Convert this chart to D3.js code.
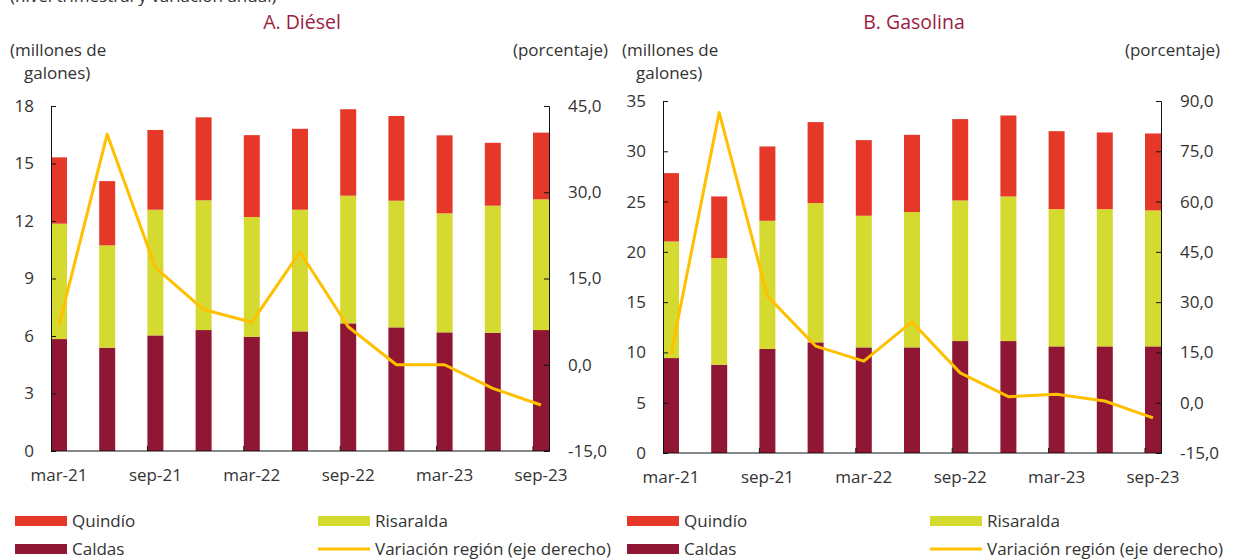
<!DOCTYPE html>
<html>
<head>
<meta charset="utf-8">
<script src="https://cdn.jsdelivr.net/npm/d3@7"></script>
<style>
  body { margin: 0; background: #fff; }
  svg { display: block; font-family: "Open Sans", sans-serif; }
</style>
</head>
<body>
<script>
// quarters, labels shown every other one
const categories = ["mar-21", "jun-21", "sep-21", "dic-21", "mar-22", "jun-22", "sep-22", "dic-22", "mar-23", "jun-23", "sep-23"];

// A. Diesel (millones de galones)
const dieselCaldas    = [5.84, 5.39, 6.03, 6.31, 5.96, 6.24, 6.66, 6.45, 6.19, 6.17, 6.31];
const dieselRisaralda = [6.02, 5.34, 6.56, 6.77, 6.25, 6.35, 6.66, 6.61, 6.21, 6.63, 6.82];
const dieselQuindio   = [3.46, 3.35, 4.16, 4.33, 4.27, 4.22, 4.51, 4.42, 4.07, 3.28, 3.48];
const dieselVariacion = [6.9, 40.1, 16.9, 9.6, 7.4, 19.6, 6.6, 0.0, 0.0, -4.1, -7.0];

// B. Gasolina (millones de galones)
const gasCaldas    = [9.44, 8.78, 10.34, 11.0, 10.5, 10.5, 11.13, 11.13, 10.6, 10.6, 10.6];
const gasRisaralda = [11.59, 10.6, 12.75, 13.85, 13.09, 13.46, 13.98, 14.38, 13.65, 13.65, 13.52];
const gasQuindio   = [6.8, 6.13, 7.39, 8.05, 7.52, 7.68, 8.09, 8.05, 7.75, 7.62, 7.65];
const gasVariacion = [14.4, 86.6, 31.8, 16.9, 12.4, 24.1, 8.9, 1.8, 2.5, 0.5, -4.5];

const dieselLeftTicks  = [0, 3, 6, 9, 12, 15, 18];
const dieselRightTicks = [-15, 0, 15, 30, 45];
const gasLeftTicks     = [0, 5, 10, 15, 20, 25, 30, 35];
const gasRightTicks    = [-15, 0, 15, 30, 45, 60, 75, 90];

const seriesNames = ["Caldas", "Risaralda", "Quindío"];
const colors = { "Caldas": "#8f1734", "Risaralda": "#d5da31", "Quindío": "#e63828" };
const lineColor = "#ffc000";
const titleColor = "#9b1d3f";
const textColor = "#333";
const fs = 17;

const svg = d3.select("body").append("svg")
  .attr("width", 1238)
  .attr("height", 560);

// subtitle, cut off at the top edge like in the source
svg.append("text")
  .attr("x", 10).attr("y", 2)
  .attr("font-size", fs).attr("fill", textColor)
  .text("(nivel trimestral y variación anual)");

const comma = d => d.toFixed(1).replace(".", ",");

function drawPanel(p) {
  const barW = 16;
  const x = d3.scalePoint().domain(categories).range([p.left + barW / 2, p.right - barW / 2]);
  const y = d3.scaleLinear().domain(p.leftDomain).range([p.bottom, p.top]);
  const y2 = d3.scaleLinear().domain(p.rightDomain).range([p.bottom, p.top]);

  const g = svg.append("g");

  // titles
  g.append("text")
    .attr("x", (p.left + p.right) / 2 + 2).attr("y", 29)
    .attr("text-anchor", "middle")
    .attr("font-size", 19.5).attr("fill", titleColor)
    .text(p.title);
  g.append("text")
    .attr("x", p.left - 41).attr("y", 56)
    .attr("font-size", fs).attr("fill", textColor)
    .text("(millones de");
  g.append("text")
    .attr("x", p.left - 27).attr("y", 79)
    .attr("font-size", fs).attr("fill", textColor)
    .text("galones)");
  g.append("text")
    .attr("x", p.right + 59).attr("y", 56)
    .attr("text-anchor", "end")
    .attr("font-size", fs).attr("fill", textColor)
    .text("(porcentaje)");

  // stacked bars
  const rows = categories.map((c, i) => ({
    cat: c, "Caldas": p.caldas[i], "Risaralda": p.risaralda[i], "Quindío": p.quindio[i]
  }));
  const stacked = d3.stack().keys(seriesNames)(rows);
  g.selectAll(".layer")
    .data(stacked)
    .join("g")
    .attr("fill", d => colors[d.key])
    .selectAll("rect")
    .data(d => d)
    .join("rect")
    .attr("x", d => x(d.data.cat) - barW / 2)
    .attr("width", barW)
    .attr("y", d => y(d[1]))
    .attr("height", d => y(d[0]) - y(d[1]));

  // axes
  const left = g.append("g")
    .attr("transform", `translate(${p.left},0)`)
    .call(d3.axisLeft(y).tickValues(p.leftTicks).tickSize(-5).tickPadding(17).tickFormat(d3.format("d")));
  const right = g.append("g")
    .attr("transform", `translate(${p.right},0)`)
    .call(d3.axisRight(y2).tickValues(p.rightTicks).tickSize(-5).tickPadding(19).tickFormat(comma));
  [left, right].forEach(a => {
    a.selectAll("text").attr("font-size", fs).attr("font-family", "Open Sans").attr("fill", textColor);
    a.selectAll("line, path").attr("stroke", "#111");
  });
  right.selectAll("text").attr("text-anchor", "start");

  // bottom axis line
  g.append("line")
    .attr("x1", p.left).attr("x2", p.right)
    .attr("y1", p.bottom).attr("y2", p.bottom)
    .attr("stroke", "#111");

  const labelCats = categories.filter((c, i) => i % 2 === 0);
  g.selectAll(".xtick")
    .data(labelCats.slice(1))
    .join("line")
    .attr("x1", d => x(d) - barW / 2).attr("x2", d => x(d) - barW / 2)
    .attr("y1", p.bottom).attr("y2", p.bottom - 5)
    .attr("stroke", "#111");
  g.selectAll(".xlab")
    .data(labelCats)
    .join("text")
    .attr("x", d => x(d)).attr("y", p.bottom + 30)
    .attr("text-anchor", "middle")
    .attr("font-size", fs).attr("fill", textColor)
    .text(d => d);

  // variation line
  g.append("path")
    .datum(p.variacion)
    .attr("fill", "none")
    .attr("stroke", lineColor)
    .attr("stroke-width", 3)
    .attr("stroke-linejoin", "round")
    .attr("d", d3.line().x((d, i) => x(categories[i])).y(d => y2(d)));

  // legend
  const lg = g.append("g");
  const items = [
    { name: "Quindío", type: "rect", col: 0, row: 0 },
    { name: "Risaralda", type: "rect", col: 1, row: 0 },
    { name: "Caldas", type: "rect", col: 0, row: 1 },
    { name: "Variación región (eje derecho)", type: "line", col: 1, row: 1 }
  ];
  items.forEach(it => {
    const lx = p.legendX + it.col * 303;
    const ly = 521 + it.row * 28;
    if (it.type === "rect") {
      lg.append("rect").attr("x", lx).attr("y", ly - 5).attr("width", 52).attr("height", 10)
        .attr("fill", colors[it.name]);
    } else {
      lg.append("line").attr("x1", lx).attr("x2", lx + 52).attr("y1", ly).attr("y2", ly)
        .attr("stroke", lineColor).attr("stroke-width", 3);
    }
    lg.append("text").attr("x", lx + 57).attr("y", ly + 6)
      .attr("font-size", fs).attr("fill", textColor)
      .text(it.name);
  });
}

drawPanel({
  title: "A. Diésel",
  left: 51, right: 549, top: 106, bottom: 451,
  leftDomain: [0, 18], rightDomain: [-15, 45],
  leftTicks: dieselLeftTicks, rightTicks: dieselRightTicks,
  caldas: dieselCaldas, risaralda: dieselRisaralda, quindio: dieselQuindio,
  variacion: dieselVariacion,
  legendX: 15
});

drawPanel({
  title: "B. Gasolina",
  left: 663, right: 1161, top: 101, bottom: 453,
  leftDomain: [0, 35], rightDomain: [-15, 90],
  leftTicks: gasLeftTicks, rightTicks: gasRightTicks,
  caldas: gasCaldas, risaralda: gasRisaralda, quindio: gasQuindio,
  variacion: gasVariacion,
  legendX: 627
});
</script>
</body>
</html>
